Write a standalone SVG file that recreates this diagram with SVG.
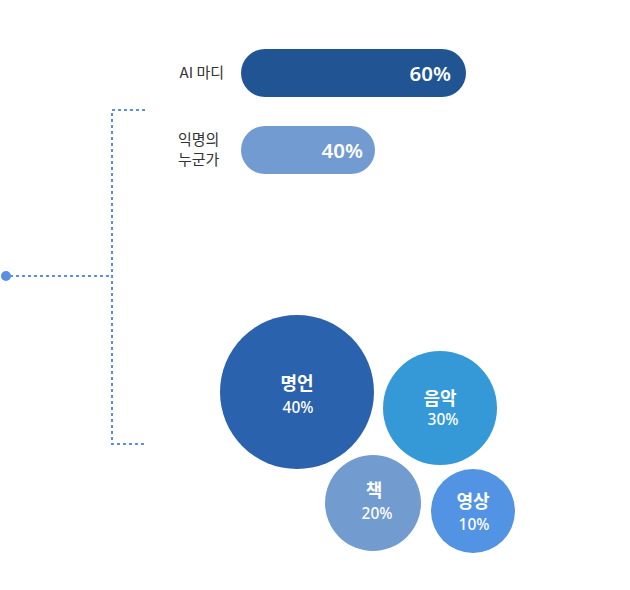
<svg xmlns="http://www.w3.org/2000/svg" width="630" height="590" viewBox="0 0 630 590">
<style>
.lbl{font-family:"Noto Sans CJK KR","Noto Sans",sans-serif;font-size:15px;fill:#333333}
.pct{font-family:"Noto Sans","Noto Sans CJK KR",sans-serif;font-size:20.5px;font-weight:600;fill:#ffffff}
.cname{font-family:"Noto Sans CJK KR",sans-serif;font-size:18px;font-weight:bold;fill:#ffffff}
.cpct{font-family:"Noto Sans","Noto Sans CJK KR",sans-serif;font-size:15.5px;font-weight:500;fill:#ffffff}
.dot{fill:none;stroke:#5b8fe6;stroke-width:2;stroke-dasharray:3 3}
</style>
<rect width="630" height="590" fill="#ffffff"/>
<g id="connectors">
<path class="dot" d="M10 276 H112"/>
<path class="dot" d="M145 110 H112 V444 H145"/>
<circle cx="6" cy="276" r="5" fill="#5b8fe6"/>
</g>
<g id="bar-ai">
<text class="lbl" x="224" y="78" text-anchor="end">AI 마디</text>
<rect x="241" y="49" width="225" height="48" rx="24" fill="#215493"/>
<text class="pct" x="451" y="81" text-anchor="end">60%</text>
</g>
<g id="bar-anon">
<text class="lbl" x="178" y="145">익명의</text>
<text class="lbl" x="178" y="165">누군가</text>
<rect x="241" y="126" width="134" height="48" rx="24" fill="#729bd1"/>
<text class="pct" x="363" y="158" text-anchor="end">40%</text>
</g>
<g id="c-quote">
<circle cx="297" cy="392" r="77" fill="#2b62ad"/>
<text class="cname" x="297" y="390" text-anchor="middle">명언</text>
<text class="cpct" x="298" y="413" text-anchor="middle">40%</text>
</g>
<g id="c-music">
<circle cx="440" cy="408" r="57" fill="#3499d6"/>
<text class="cname" x="440" y="405" text-anchor="middle">음악</text>
<text class="cpct" x="443" y="425" text-anchor="middle">30%</text>
</g>
<g id="c-book">
<circle cx="373" cy="503" r="48" fill="#729bd0"/>
<text class="cname" x="374" y="497" text-anchor="middle">책</text>
<text class="cpct" x="377" y="519" text-anchor="middle">20%</text>
</g>
<g id="c-video">
<circle cx="473" cy="511" r="42" fill="#5293e4"/>
<text class="cname" x="473" y="508" text-anchor="middle">영상</text>
<text class="cpct" x="474" y="530" text-anchor="middle">10%</text>
</g>
</svg>
